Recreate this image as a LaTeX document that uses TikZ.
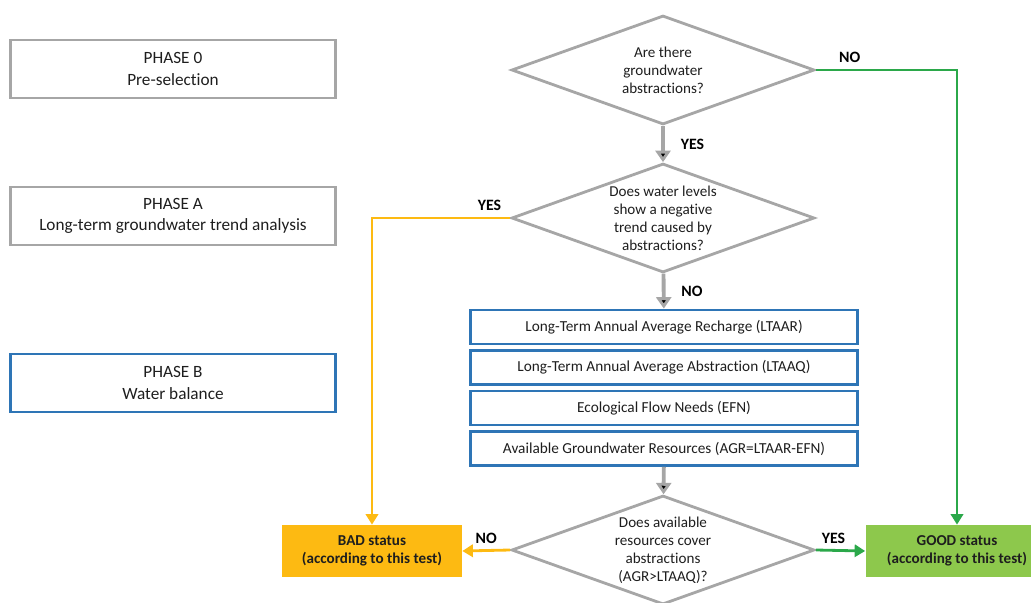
\documentclass[tikz,border=0pt]{standalone}
\usepackage{fontspec}
\setmainfont{Carlito}[Ligatures=NoCommon]
\usetikzlibrary{shapes.geometric,arrows.meta,positioning}
\definecolor{boxgray}{HTML}{A6A6A6}
\definecolor{boxblue}{HTML}{2E75B6}
\definecolor{badfill}{HTML}{FDBA12}
\definecolor{goodfill}{HTML}{8DC84C}
\definecolor{goodline}{HTML}{2BA84A}
\definecolor{txt}{HTML}{1E1E1E}

\begin{document}
\begin{tikzpicture}[x=0.02cm,y=-0.02cm,
   phase/.style={draw=boxgray,line width=1.6pt,minimum width=6.5cm,minimum height=1.16cm,
      align=center,text=txt,font=\fontsize{9.8}{12}\selectfont},
   question/.style={diamond,draw=boxgray,line width=1.6pt,minimum width=6.06cm,minimum height=2.18cm,
      aspect=2.8,inner sep=0pt,align=center,text=txt,font=\fontsize{8.6}{10.2}\selectfont},
   calc/.style={draw=boxblue,line width=1.6pt,minimum width=7.74cm,minimum height=0.68cm,
      text=txt,font=\fontsize{8.7}{10.2}\selectfont},
   result/.style={minimum width=3.6cm,minimum height=1.04cm,align=center,text=txt,
      font=\bfseries\fontsize{8.6}{10.2}\selectfont},
   lbl/.style={font=\bfseries\fontsize{9}{11}\selectfont,text=black},
   flow/.style={draw=boxgray,line width=2.2pt,-{Triangle[length=6.5pt,width=8.5pt]}},
   good/.style={draw=goodline,line width=1.6pt,-{Triangle[length=6pt,width=7pt]}},
   bad/.style={draw=badfill,line width=1.6pt,-{Triangle[length=6pt,width=7pt]}}]

   \clip (0,0) rectangle (1031,602);

   % phases
   \node[phase] (p0) at (173,69) {PHASE 0\\Pre-selection};
   \node[phase] (pA) at (173,216) {PHASE A\\Long-term groundwater trend analysis};
   \node[phase,draw=boxblue] (pB) at (173,383) {PHASE B\\Water balance};

   % questions
   \node[question] (q1) at (663,70) {Are there\\groundwater\\abstractions?};
   \node[question] (q2) at (663,218) {Does water levels\\show a negative\\trend caused by\\abstractions?};
   \node[question] (q3) at (663,550) {Does available\\resources cover\\abstractions\\(AGR>LTAAQ)?};

   % water balance terms
   \node[calc] (r1) at (664,327) {Long-Term Annual Average Recharge (LTAAR)};
   \node[calc,on grid] (r2) [below=0.81cm of r1] {Long-Term Annual Average Abstraction (LTAAQ)};
   \node[calc,on grid] (r3) [below=0.81cm of r2] {Ecological Flow Needs (EFN)};
   \node[calc,on grid] (r4) [below=0.81cm of r3] {Available Groundwater Resources (AGR=LTAAR-EFN)};

   % outcomes
   \node[result,fill=badfill] (bad) at (372,551) {BAD status\\(according to this test)};
   \node[result,fill=goodfill,minimum width=3.66cm] (good) at (957,551) {GOOD status\\(according to this test)};

   \path[flow]
   (q1) edge node[lbl,right=0.2cm] {YES} (q2)
   (q2) edge node[lbl,right=0.2cm] {NO} (r1)
   (r4) edge (q3);

   \draw[good] (q1.east) -| node[lbl,pos=0.12,above] {NO} (good.north);
   \draw[bad] (q2.west) -| node[lbl,pos=0.075,above] {YES} (bad.north);
   \draw[bad] (q3.west) -- node[lbl,above] {NO} (bad.east);
   \draw[good] (q3.east) -- node[lbl,above,xshift=-4pt] {YES} (good.west);
\end{tikzpicture}
\end{document}
